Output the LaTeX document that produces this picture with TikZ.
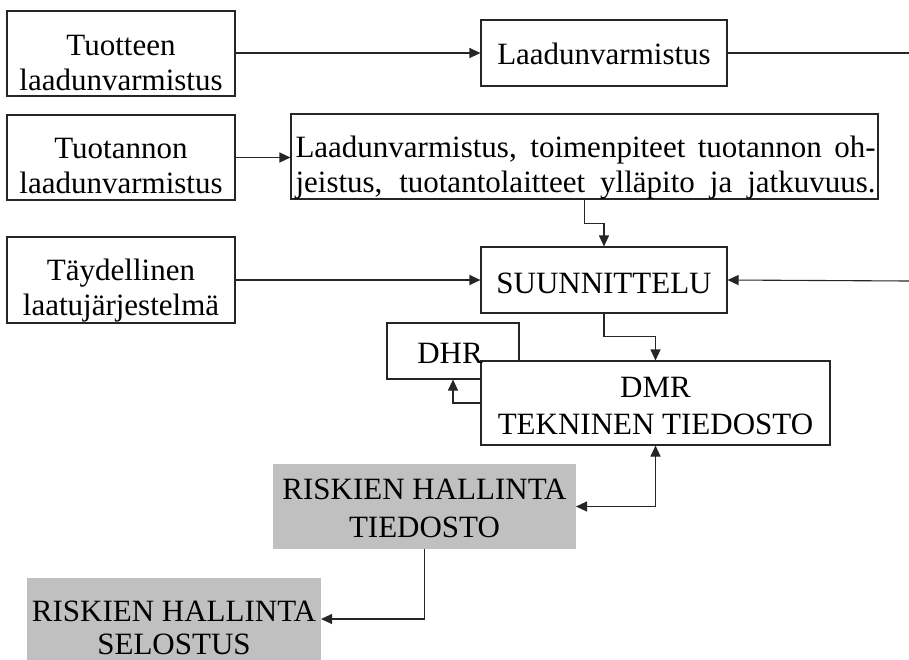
\documentclass[tikz,border=0pt]{standalone}
\usepackage{fontspec}
\setmainfont{Liberation Serif}
\usetikzlibrary{arrows.meta}
% two centred lines, baseline on the first one, optional extra gap
\newcommand\twoline[3][0pt]{\vtop{\baselineskip=\dimexpr35pt+#1\relax
  \lineskiplimit=-100pt\halign{\hfil##\hfil\cr#2\cr#3\cr}}}
\definecolor{linecol}{HTML}{262626}
\definecolor{boxgray}{HTML}{C0C0C0}

\begin{document}
\begin{tikzpicture}[x=1pt,y=-1pt,
  framebox/.style={draw=linecol, line width=1.1pt, fill=white, inner sep=0pt},
  shadebox/.style={fill=boxgray, inner sep=0pt, outer sep=0pt},
  txt/.style={font=\fontsize{31}{35}\selectfont, inner sep=0pt, anchor=base},
  wire/.style={draw=linecol, line width=1.1pt},
  arr/.style={wire, -{Triangle[length=11pt,width=10pt]}},
  dblarr/.style={wire, {Triangle[length=11pt,width=10pt]}-{Triangle[length=11pt,width=10pt]}}]
\useasboundingbox (0,0) rectangle (909,659);

% left column of inputs
\node[framebox, minimum width=228pt, minimum height=85pt] (A) at (121,53.5) {};
\node[txt] (tA) at (121,55) {\twoline{Tuotteen}{laadunvarmistus}};
\node[framebox, minimum width=228pt, minimum height=85pt] (C) at (121,157.5) {};
\node[txt] (tC) at (121,158) {\twoline{Tuotannon}{laadunvarmistus}};
\node[framebox, minimum width=228pt, minimum height=86pt] (E) at (121,280) {};
\node[txt] (tE) at (121,280) {\twoline{Täydellinen}{laatujärjestelmä}};

% middle column
\node[framebox, minimum width=246pt, minimum height=66pt] (B) at (604,53) {};
\node[txt] (tB) at (604,64) {Laadunvarmistus};
\node[framebox, minimum width=587pt, minimum height=85pt] (D) at (584.5,156.5) {};
\node[txt] (tD) at (585.5,157) {\twoline{\makebox[580pt][s]{Laadunvarmistus, toimenpiteet tuotannon oh-}}{\makebox[580pt][s]{jeistus, tuotantolaitteet ylläpito ja jatkuvuus.}}};
\node[framebox, minimum width=246pt, minimum height=66pt] (F) at (604,280) {};
\node[txt] (tF) at (604,293) {SUUNNITTELU};

% documentation boxes
\node[framebox, minimum width=132pt, minimum height=56pt] (DHR) at (453,351) {};
\node[framebox, minimum width=349pt, minimum height=84pt] (DMR) at (655.5,403) {};
\node[txt] (tDHR) at (450,363) {DHR};
\node[txt] (tDMR) at (655.5,397) {\twoline[2pt]{DMR}{TEKNINEN TIEDOSTO}};

% risk management
\node[shadebox, minimum width=303pt, minimum height=85pt] (RT) at (424.5,506.5) {};
\node[txt] (tRT) at (424.5,499) {\twoline[3pt]{RISKIEN HALLINTA}{TIEDOSTO}};
\node[shadebox, minimum width=294pt, minimum height=82pt] (RS) at (174,619) {};
\node[txt] (tRS) at (174,621) {\twoline[-2pt]{RISKIEN HALLINTA}{SELOSTUS}};

% free ends at the right edge
\coordinate (rB) at (909,53);
\coordinate (rF) at (909,281);

% connectors
\draw[arr] (A.east |- B.west) -- (B.west);
\draw[wire] (B.east) -- (rB);
\draw[arr] (C.east) -- (C.east -| D.west);
\draw[arr] (D.south) -- ++(0,24) -| (F.north);
\draw[arr] (E.east) -- (F.west);
\draw[arr] (rF) -- (F.east);
\draw[arr] (F.south) -- ++(0,23) -| (DMR.north);
\draw[arr] (DMR.west) -| (DHR.south);
\draw[dblarr] (RT.east) -| (DMR.south);
\draw[arr] (RT.south) |- (RS.east);
\end{tikzpicture}
\end{document}
